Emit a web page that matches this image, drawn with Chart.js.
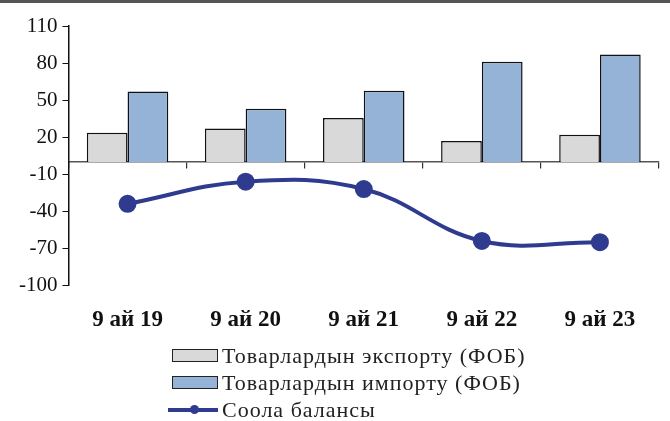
<!DOCTYPE html>
<html>
<head>
<meta charset="utf-8">
<script src="https://cdn.jsdelivr.net/npm/chart.js@4/dist/chart.umd.min.js"></script>
<style>
  body { margin: 0; background: #fff; }
  #wrap { position: relative; width: 670px; height: 421px; overflow: hidden; }
  #topline { position: absolute; left: 0; top: 0; width: 670px; height: 3px; background: #555; }
  #box { position: absolute; left: 0; top: 4px; width: 670px; height: 343px; }
  #legend { position: absolute; left: 172px; top: 342px; font-family: "Liberation Serif", serif; font-size: 22px; letter-spacing: 1px; color: #222; }
  .row { height: 27px; display: flex; align-items: center; }
  .mark { width: 46px; height: 13px; box-sizing: border-box; margin-right: 4px; position: relative; }
</style>
</head>
<body>
<div id="wrap">
  <div id="topline"></div>
  <div id="box"><canvas id="graphs"></canvas></div>
  <div id="legend"></div>
</div>
<script>
// Donnees
var categories = ["9 ай 19", "9 ай 20", "9 ай 21", "9 ай 22", "9 ай 23"];
var exportVals = [23.5, 27, 35.5, 17, 22];
var importVals = [57, 43, 57.5, 81, 87];
var balanceVals = [-34, -16, -22, -64, -65];
var seriesNames = ["Товарлардын экспорту (ФОБ)", "Товарлардын импорту (ФОБ)", "Соола балансы"];

var serif = "'Liberation Serif', 'Times New Roman', serif";

var ctx = document.getElementById('graphs').getContext('2d');
window.myChart = new Chart(ctx, {
    type: 'bar',
    data: {
        labels: categories,
        datasets: [{
            label: seriesNames[0],
            data: exportVals,
            backgroundColor: '#d9d9d9',
            borderColor: '#111',
            borderWidth: 1.5,
            order: 2
        }, {
            label: seriesNames[1],
            data: importVals,
            backgroundColor: '#95b3d7',
            borderColor: '#111',
            borderWidth: 1.5,
            order: 2
        }, {
            type: 'line',
            label: seriesNames[2],
            data: balanceVals,
            borderColor: '#2e3b8f',
            backgroundColor: '#2e3b8f',
            borderWidth: 4,
            pointRadius: 7,
            tension: 0.4,
            order: 1
        }]
    },
    options: {
        responsive: true,
        maintainAspectRatio: false,
        animation: false,
        datasets: { bar: { categoryPercentage: 0.69, barPercentage: 1 } },
        layout: { padding: { top: 22, right: 10, left: 14, bottom: 0 } },
        plugins: { legend: { display: false }, tooltip: { enabled: false } },
        scales: {
            x: {
                grid: { display: false },
                border: { display: false },
                ticks: { color: '#111', padding: 13, font: { family: serif, size: 23, weight: 'bold' } }
            },
            x2: {
                type: 'category',
                position: { y: 0 },
                offset: true,
                grid: { drawOnChartArea: false, offset: true, tickLength: 6, color: '#333', lineWidth: 1.2 },
                border: { display: true, color: '#555', width: 1.5 },
                ticks: { display: false }
            },
            y: {
                min: -100,
                max: 110,
                ticks: { stepSize: 30, color: '#111', padding: 5, font: { family: serif, size: 21 } },
                grid: { drawOnChartArea: false, tickLength: 6, color: '#111' },
                border: { display: true, color: '#111', width: 1.5 }
            }
        }
    }
});

// Legende HTML construite depuis les datasets
var leg = document.getElementById('legend');
window.myChart.data.datasets.forEach(function(ds) {
    var row = document.createElement('div');
    row.className = 'row';
    var mark = document.createElement('div');
    mark.className = 'mark';
    if (ds.type === 'line') {
        mark.innerHTML = "<div style='position:absolute;left:-4px;right:0;top:5px;height:3.5px;background:" + ds.borderColor + "'></div>" +
            "<div style='position:absolute;left:18px;top:2px;width:9px;height:9px;border-radius:50%;background:" + ds.borderColor + "'></div>";
    } else {
        mark.style.background = ds.backgroundColor;
        mark.style.border = '1.5px solid #222';
    }
    var txt = document.createElement('span');
    txt.textContent = ds.label;
    row.appendChild(mark);
    row.appendChild(txt);
    leg.appendChild(row);
});
</script>
</body>
</html>
